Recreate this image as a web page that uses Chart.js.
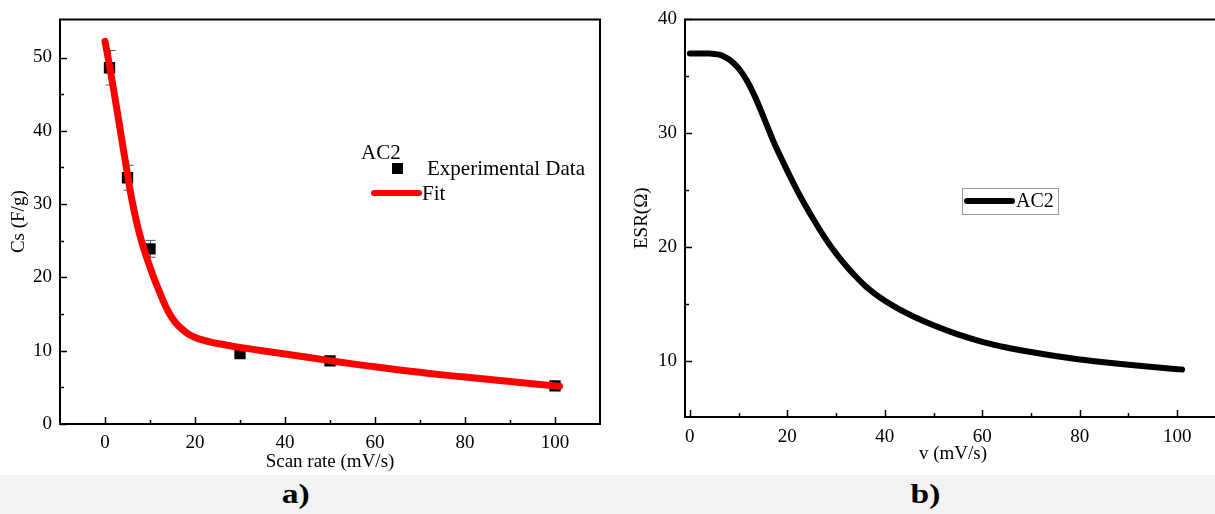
<!DOCTYPE html>
<html>
<head>
<meta charset="utf-8">
<script src="https://cdn.jsdelivr.net/npm/chart.js@4/dist/chart.umd.min.js"></script>
<style>
  html, body { margin:0; padding:0; width:1215px; height:514px; overflow:hidden; background:#ffffff; }
  #wrapA { position:absolute; left:0; top:0; width:610px; height:474px; }
  #wrapB { position:absolute; left:615px; top:0; width:610px; height:474px; }
  #band { position:absolute; left:0; top:475px; width:1215px; height:39px; background:#f2f2f2; }
  .lab { position:absolute; top:476px; font-family:'Liberation Serif','Times New Roman',serif; font-weight:bold; font-size:28px; line-height:36px; color:#000; transform:scaleX(1.2); }
</style>
</head>
<body>
<div id="band"></div>
<div class="lab" id="labA" style="left:284px;">a)</div>
<div class="lab" id="labB" style="left:913px;">b)</div>
<div id="wrapA"><canvas id="cA" width="610" height="474"></canvas></div>
<div id="wrapB"><canvas id="cB" width="610" height="474"></canvas></div>
<script>
// ---------- data (a) ----------
const scanRate = [1, 5, 10, 30, 50, 100];
const capacitance = [48.6, 33.6, 23.9, 9.6, 8.6, 5.2];
const capError = [2.35, 1.7, 1.15, 0.4, 0.3, 0.3];
const fitX = [0,1,2,3,4,5,6,7,8,9,10,11,12,13,14,15,16,17,18,19,20,22,24,26,28,30,35,40,45,50,55,60,65,70,75,80,85,90,95,100,101];
const fitY = [52.2,48.9,45.3,41.6,37.8,34.0,30.5,27.6,25.2,23.2,21.4,19.7,18.2,16.7,15.4,14.4,13.6,13.0,12.5,12.1,11.8,11.4,11.1,10.88,10.65,10.45,10.0,9.55,9.1,8.65,8.2,7.8,7.4,7.05,6.7,6.4,6.1,5.8,5.5,5.2,5.15];
const aXTicks = [0,20,40,60,80,100];
const aXMinor = [10,30,50,70,90];
const aYTicks = [0,10,20,30,40,50];
const aYMinor = [5,15,25,35,45];

// ---------- data (b) ----------
const esrV = [0,2,4,5,6,7,8,9,10,11,12,13,14,15,16,17,18,19,20,22,24,26,28,30,32,34,36,38,40,43,46,50,55,60,65,70,75,80,85,90,95,100,101];
const esrVal = [37.0,37.0,37.0,36.97,36.9,36.75,36.5,36.15,35.7,35.1,34.4,33.55,32.6,31.55,30.5,29.45,28.5,27.6,26.7,25.0,23.45,22.0,20.65,19.45,18.4,17.45,16.6,15.9,15.3,14.55,13.9,13.15,12.35,11.7,11.2,10.8,10.45,10.15,9.9,9.68,9.48,9.3,9.27];
const bXTicks = [0,20,40,60,80,100];
const bXMinor = [10,30,50,70,90];
const bYTicks = [10,20,30,40];
const bYMinor = [15,25,35];

const FONT = "'Liberation Serif','Times New Roman',serif";
Chart.defaults.font.family = FONT;
Chart.defaults.color = '#000';
Chart.defaults.animation = false;

function frameTicksPlugin(xMaj, xMin, yMaj, yMin, drawRight) {
  return {
    id: 'frameTicks',
    afterDatasetsDraw(chart) {
      const {ctx, chartArea: a, scales: {x, y}} = chart;
      ctx.save();
      ctx.strokeStyle = '#000';
      ctx.lineWidth = 2;
      ctx.beginPath();
      ctx.moveTo(a.left, a.bottom); ctx.lineTo(a.left, a.top); ctx.lineTo(a.right, a.top);
      if (drawRight) ctx.lineTo(a.right, a.bottom);
      ctx.moveTo(a.left - 1, a.bottom); ctx.lineTo(a.right + 1, a.bottom);
      ctx.stroke();
      ctx.lineWidth = 1.5;
      ctx.beginPath();
      xMaj.forEach(v => { const p = Math.round(x.getPixelForValue(v)) + 0.5; ctx.moveTo(p, a.bottom); ctx.lineTo(p, a.bottom - 7); });
      xMin.forEach(v => { const p = Math.round(x.getPixelForValue(v)) + 0.5; ctx.moveTo(p, a.bottom); ctx.lineTo(p, a.bottom - 4); });
      yMaj.forEach(v => { const p = Math.round(y.getPixelForValue(v)) + 0.5; ctx.moveTo(a.left, p); ctx.lineTo(a.left + 7, p); });
      yMin.forEach(v => { const p = Math.round(y.getPixelForValue(v)) + 0.5; ctx.moveTo(a.left, p); ctx.lineTo(a.left + 4, p); });
      ctx.stroke();
      ctx.restore();
    }
  };
}

const errorBarPlugin = {
  id: 'errorBars',
  beforeDatasetsDraw(chart) {
    const {ctx, scales: {x, y}} = chart;
    ctx.save();
    ctx.strokeStyle = '#555';
    ctx.lineWidth = 1;
    ctx.beginPath();
    scanRate.forEach((v, i) => {
      const px = Math.round(x.getPixelForValue(v)) + 0.5;
      const t = y.getPixelForValue(capacitance[i] + capError[i]);
      const b = y.getPixelForValue(capacitance[i] - capError[i]);
      ctx.moveTo(px, t); ctx.lineTo(px, b);
      ctx.moveTo(px - 5, t); ctx.lineTo(px + 5, t);
      ctx.moveTo(px - 5, b); ctx.lineTo(px + 5, b);
    });
    ctx.stroke();
    ctx.restore();
  }
};

const legendA = {
  id: 'legendA',
  afterDraw(chart) {
    const ctx = chart.ctx;
    const ds = chart.data.datasets;
    ctx.save();
    ctx.font = "21px " + FONT;
    ctx.fillStyle = '#000';
    ctx.textBaseline = 'middle';
    ctx.textAlign = 'left';
    ctx.fillText('AC2', 361, 153);
    ctx.fillStyle = ds[0].backgroundColor;
    ctx.fillRect(392, 163, 11, 11);
    ctx.fillStyle = '#000';
    ctx.fillText(ds[0].label, 427, 169);
    ctx.strokeStyle = ds[1].borderColor;
    ctx.lineWidth = 6;
    ctx.lineCap = 'round';
    ctx.beginPath(); ctx.moveTo(374, 193); ctx.lineTo(419, 193); ctx.stroke();
    ctx.fillText(ds[1].label, 422, 194);
    ctx.restore();
  }
};

const legendB = {
  id: 'legendB',
  afterDraw(chart) {
    const ctx = chart.ctx;
    const ds = chart.data.datasets[0];
    const ox = -615;
    ctx.save();
    ctx.strokeStyle = '#999';
    ctx.lineWidth = 1;
    ctx.strokeRect(962.5 + ox, 188.5, 96, 26);
    ctx.strokeStyle = ds.borderColor;
    ctx.lineWidth = 6;
    ctx.lineCap = 'round';
    ctx.beginPath(); ctx.moveTo(967 + ox, 201); ctx.lineTo(1012 + ox, 201); ctx.stroke();
    ctx.font = "20px " + FONT;
    ctx.fillStyle = '#000';
    ctx.textBaseline = 'middle';
    ctx.fillText(ds.label, 1016 + ox, 202);
    ctx.restore();
  }
};

function setTicks(vals) { return axis => { axis.ticks = vals.map(v => ({value: v})); }; }

// ---------- chart (a) ----------
new Chart(document.getElementById('cA'), {
  type: 'scatter',
  data: {
    datasets: [
      {
        label: 'Experimental Data',
        data: scanRate.map((v, i) => ({x: v, y: capacitance[i]})),
        backgroundColor: '#000',
        borderColor: '#000',
        pointStyle: 'rect',
        pointRadius: 8,
        borderWidth: 0,
        order: 2
      },
      {
        label: 'Fit',
        type: 'line',
        data: fitX.map((v, i) => ({x: v, y: fitY[i]})),
        borderColor: '#ff0000',
        borderWidth: 7,
        borderCapStyle: 'round',
        borderJoinStyle: 'round',
        pointRadius: 0,
        cubicInterpolationMode: 'monotone',
        fill: false,
        order: 1
      }
    ]
  },
  options: {
    responsive: false,
    layout: { padding: { left: 0, top: 18, right: 10, bottom: 0 } },
    plugins: { legend: { display: false }, tooltip: { enabled: false } },
    scales: {
      x: {
        type: 'linear', min: -10, max: 110,
        afterBuildTicks: setTicks(aXTicks),
        afterFit: axis => { axis.height = 50; },
        grid: { display: false, drawTicks: false },
        border: { display: false },
        ticks: { font: { size: 19 }, color: '#000', padding: 8, maxRotation: 0 },
        title: { display: true, text: 'Scan rate (mV/s)', font: { size: 19 }, color: '#000', padding: { top: 0, bottom: 1 } }
      },
      y: {
        type: 'linear', min: 0, max: 55.2,
        afterBuildTicks: setTicks(aYTicks),
        afterFit: axis => { axis.width = 60; },
        grid: { display: false, drawTicks: false },
        border: { display: false },
        ticks: { font: { size: 19 }, color: '#000', padding: 8 },
        title: { display: true, text: 'Cs (F/g)', font: { size: 19 }, color: '#000', padding: { top: 8, bottom: 0 } }
      }
    }
  },
  plugins: [errorBarPlugin, frameTicksPlugin(aXTicks, aXMinor, aYTicks, aYMinor, true), legendA]
});

// ---------- chart (b) ----------
new Chart(document.getElementById('cB'), {
  type: 'line',
  data: {
    datasets: [{
      label: 'AC2',
      data: esrV.map((v, i) => ({x: v, y: esrVal[i]})),
      borderColor: '#000',
      borderWidth: 6,
      borderCapStyle: 'round',
      borderJoinStyle: 'round',
      pointRadius: 0,
      cubicInterpolationMode: 'monotone',
      fill: false
    }]
  },
  options: {
    responsive: false,
    layout: { padding: { left: 0, top: 19, right: 4, bottom: 0 } },
    plugins: { legend: { display: false }, tooltip: { enabled: false } },
    scales: {
      x: {
        type: 'linear', min: -1, max: 109,
        afterBuildTicks: setTicks(bXTicks),
        afterFit: axis => { axis.height = 57; },
        grid: { display: false, drawTicks: false },
        border: { display: false },
        ticks: { font: { size: 19 }, color: '#000', padding: 9, maxRotation: 0 },
        title: { display: true, text: 'v (mV/s)', font: { size: 19 }, color: '#000', padding: { top: 0, bottom: 9 } }
      },
      y: {
        type: 'linear', min: 5.1, max: 40,
        afterBuildTicks: setTicks(bYTicks),
        afterFit: axis => { axis.width = 70; },
        grid: { display: false, drawTicks: false },
        border: { display: false },
        ticks: { font: { size: 19 }, color: '#000', padding: 8 },
        title: { display: true, text: 'ESR(Ω)', font: { size: 19 }, color: '#000', padding: { top: 16, bottom: 0 } }
      }
    }
  },
  plugins: [frameTicksPlugin(bXTicks, bXMinor, bYTicks, bYMinor, false), legendB]
});
</script>
</body>
</html>
